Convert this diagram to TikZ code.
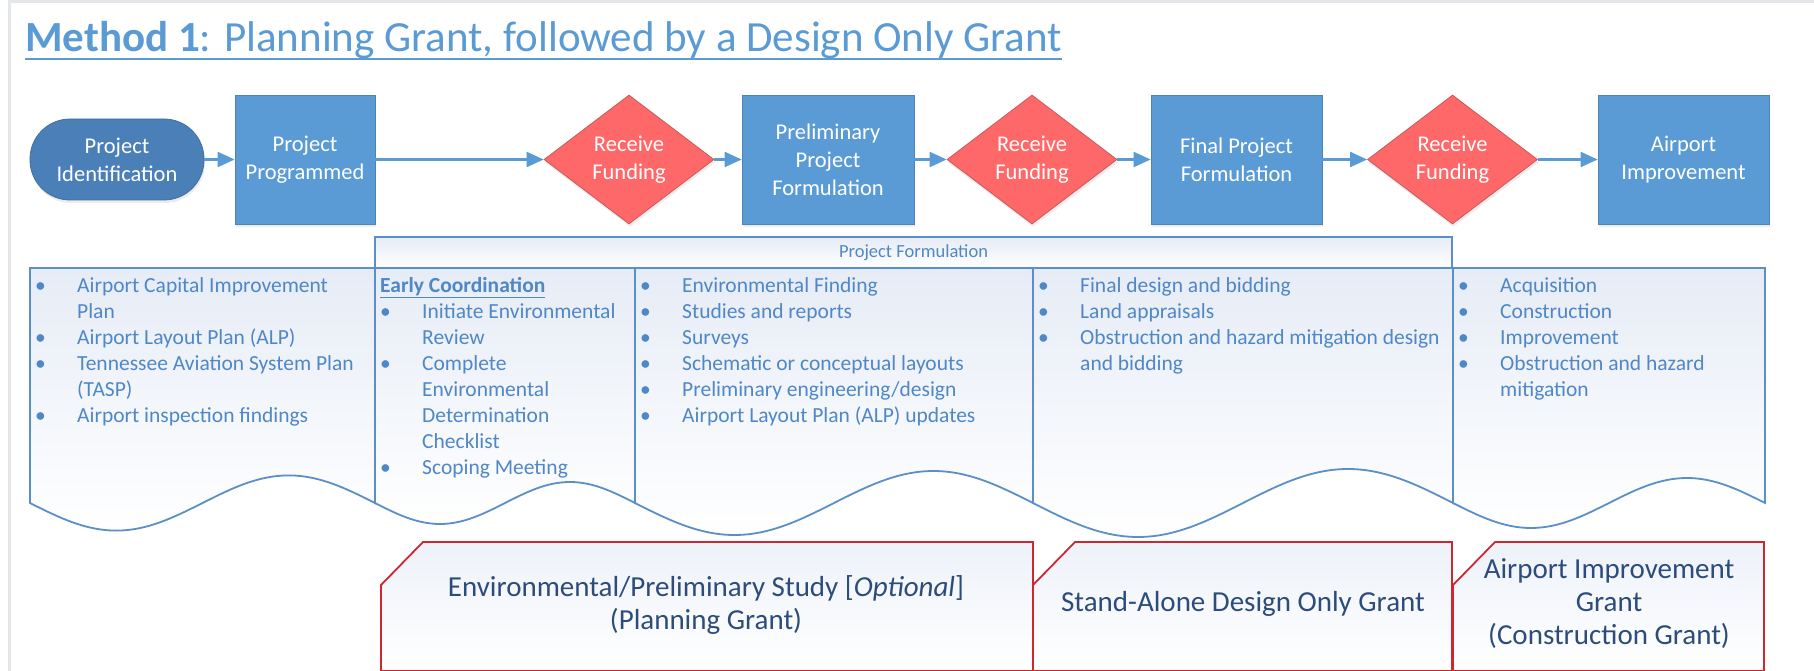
\documentclass[tikz,border=0pt]{standalone}
\usepackage{fontspec}
\setmainfont{Carlito}
\usepackage{tikz}
\usetikzlibrary{shapes.geometric,arrows.meta,shadows}

\definecolor{flowblue}{HTML}{5B9BD5}
\definecolor{termblue}{HTML}{4A7FB8}
\definecolor{termedge}{HTML}{41719C}
\definecolor{fundred}{HTML}{FF6868}
\definecolor{fundedge}{HTML}{C65B5B}
\definecolor{docline}{HTML}{5B8FC9}
\definecolor{doctext}{HTML}{4F87C7}
\definecolor{docshade}{HTML}{E6ECF6}
\definecolor{grantred}{HTML}{D02630}
\definecolor{granttext}{HTML}{2C4C7B}
\definecolor{framegray}{HTML}{E3E7EA}

\begin{document}
\begin{tikzpicture}[x=1pt,y=-1pt,
  flowbox/.style={rectangle,fill=flowblue,draw=flowblue!85!black,line width=0.8pt,
    minimum height=129pt,inner sep=2pt,text=white,align=center,
    font=\fontsize{22.5}{28}\selectfont,
    drop shadow={opacity=0.15,shadow xshift=1pt,shadow yshift=-3pt}},
  fundbox/.style={diamond,fill=fundred,draw=fundedge,line width=0.8pt,
    minimum width=170pt,minimum height=129pt,inner sep=0pt,text=white,align=center,
    font=\fontsize{22.5}{28}\selectfont,
    drop shadow={opacity=0.15,shadow xshift=1pt,shadow yshift=-3pt}},
  flowarrow/.style={draw=flowblue,line width=2.2pt,-{Triangle[length=17pt,width=15pt]}},
  doc/.style={draw=docline,line width=1.8pt,top color=docshade,middle color=white,bottom color=white},
  listtext/.style={text=doctext,font=\fontsize{21.5}{26}\selectfont,inner sep=0pt,anchor=base west},
  grant/.style={draw=grantred,line width=1.8pt,top color=docshade!70,bottom color=white},
  granttxt/.style={text=granttext,align=center,font=\fontsize{29}{33}\selectfont}]

  \useasboundingbox (0,0) rectangle (1814,671);
  \fill[white] (0,0) rectangle (1814,671);
  \draw[framegray,line width=3pt] (9,671) -- (9,2) -- (1814,2);

  % title
  \node[anchor=base west,inner sep=0pt,text=flowblue,font=\fontsize{43}{50}\selectfont] (title) at (25,52)
    {\textbf{Method 1}: Planning Grant, followed by a Design Only Grant};
  \draw[flowblue,line width=2.5pt] ([yshift=-7pt]title.base west) -- ([yshift=-7pt]title.base east);

  % flow row
  \node[rectangle,rounded corners=40pt,minimum width=174pt,minimum height=81pt,fill=termblue,draw=termedge,
    line width=0.8pt,text=white,align=center,font=\fontsize{22.5}{28}\selectfont,
    drop shadow={opacity=0.15,shadow xshift=1pt,shadow yshift=-3pt}] (ident) at (117,159.5) {Project\\Identification};
  \node[flowbox,minimum width=140pt] (prog) at (305,159.5) {Project\\Programmed};
  \node[fundbox] (fund1) at (629,159.5) {Receive\\Funding};
  \node[flowbox,minimum width=172pt] (prelim) at (828,159.5) {Preliminary\\Project\\Formulation};
  \node[fundbox] (fund2) at (1032,159.5) {Receive\\Funding};
  \node[flowbox,minimum width=171pt] (final) at (1236.5,159.5) {Final Project\\Formulation};
  \node[fundbox] (fund3) at (1452.5,159.5) {Receive\\Funding};
  \node[flowbox,minimum width=171pt] (airport) at (1683.5,159.5) {Airport\\Improvement};

  \draw[flowarrow] (ident) -- (prog);
  \draw[flowarrow] (prog) -- (fund1);
  \draw[flowarrow] (fund1) -- (prelim);
  \draw[flowarrow] (prelim) -- (fund2);
  \draw[flowarrow] (fund2) -- (final);
  \draw[flowarrow] (final) -- (fund3);
  \draw[flowarrow] (fund3) -- (airport);

  % project formulation header
  \draw[doc] (375,237) rectangle (1452,268);
  \node[text=doctext,font=\fontsize{18.5}{22}\selectfont] (pfhead) at (913.5,253) {Project Formulation};

  % document columns with wavy bottoms
  \draw[doc] (30,268) -- (30,503) sin (116.25,530.6) cos (202.5,503) sin (288.75,475.4) cos (375,503) -- (375,268) -- cycle;
  \draw[doc] (375,268) -- (375,503) sin (440,524) cos (505,503) sin (570,482) cos (635,503) -- (635,268) -- cycle;
  \draw[doc] (635,268) -- (635,503) sin (734.5,535) cos (834,503) sin (933.5,471) cos (1033,503) -- (1033,268) -- cycle;
  \draw[doc] (1033,268) -- (1033,503) sin (1138,537) cos (1243,503) sin (1348,469) cos (1453,503) -- (1453,268) -- cycle;
  \draw[doc] (1453,268) -- (1453,503) sin (1531,528) cos (1609,503) sin (1687,478) cos (1765,503) -- (1765,268) -- cycle;

  \node[listtext] (planning) at (35,292) {\begin{tabular}[t]{@{}p{42pt}@{}l@{}}
    \textbullet & Airport Capital Improvement\\
     & Plan\\
    \textbullet & Airport Layout Plan (ALP)\\
    \textbullet & Tennessee Aviation System Plan\\
     & (TASP)\\
    \textbullet & Airport inspection findings
  \end{tabular}};
  \node[listtext] (early) at (380,292) {\begin{tabular}[t]{@{}p{42pt}@{}l@{}}
    \multicolumn{2}{@{}l@{}}{\underline{\textbf{Early Coordination}}}\\
    \textbullet & Initiate Environmental\\
     & Review\\
    \textbullet & Complete\\
     & Environmental\\
     & Determination\\
     & Checklist\\
    \textbullet & Scoping Meeting
  \end{tabular}};
  \node[listtext] (studies) at (640,292) {\begin{tabular}[t]{@{}p{42pt}@{}l@{}}
    \textbullet & Environmental Finding\\
    \textbullet & Studies and reports\\
    \textbullet & Surveys\\
    \textbullet & Schematic or conceptual layouts\\
    \textbullet & Preliminary engineering/design\\
    \textbullet & Airport Layout Plan (ALP) updates
  \end{tabular}};
  \node[listtext] (design) at (1038,292) {\begin{tabular}[t]{@{}p{42pt}@{}l@{}}
    \textbullet & Final design and bidding\\
    \textbullet & Land appraisals\\
    \textbullet & Obstruction and hazard mitigation design\\
     & and bidding
  \end{tabular}};
  \node[listtext] (build) at (1458,292) {\begin{tabular}[t]{@{}p{42pt}@{}l@{}}
    \textbullet & Acquisition\\
    \textbullet & Construction\\
    \textbullet & Improvement\\
    \textbullet & Obstruction and hazard\\
     & mitigation
  \end{tabular}};

  % grant boxes
  \draw[grant] (381,585) -- (423,542) -- (1033,542) -- (1033,671) -- (381,671) -- cycle;
  \draw[grant] (1033,585) -- (1075,542) -- (1452,542) -- (1452,671) -- (1033,671) -- cycle;
  \draw[grant] (1453,585) -- (1495,542) -- (1764,542) -- (1764,671) -- (1453,671) -- cycle;
  \node[granttxt] (study) at (706,605) {Environmental/Preliminary Study [\textit{Optional}]\\(Planning Grant)};
  \node[granttxt] (standalone) at (1243,604) {Stand-Alone Design Only Grant};
  \node[granttxt] (construct) at (1609,604) {Airport Improvement\\Grant\\(Construction Grant)};
\end{tikzpicture}
\end{document}
